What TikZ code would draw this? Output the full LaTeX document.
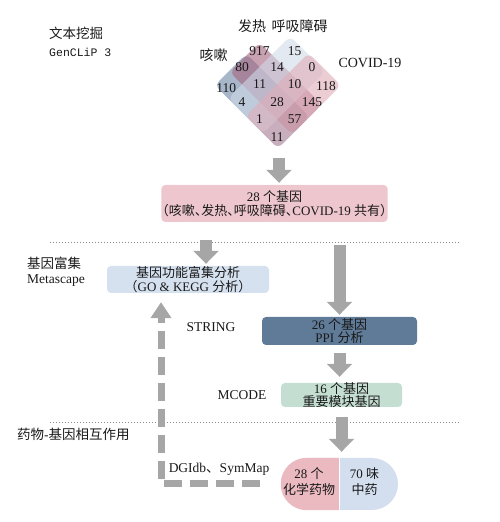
\documentclass[tikz,border=0pt]{standalone}
\usepackage{fontspec}
\setmainfont{Liberation Serif}
\setmonofont{Liberation Mono}
\newfontfamily\cjk{Noto Sans CJK SC}
\newfontfamily\cjkh[RawFeature=+halt]{Noto Sans CJK SC}
\usetikzlibrary{arrows.meta, positioning}

\definecolor{coughset}{HTML}{6C85A3}
\definecolor{feverset}{HTML}{A5647F}
\definecolor{breathset}{HTML}{CFDAE8}
\definecolor{covidset}{HTML}{E1ACB7}
\definecolor{commonpink}{HTML}{EEC6CD}
\definecolor{enrichblue}{HTML}{D6E1F0}
\definecolor{ppiblue}{HTML}{5F7B97}
\definecolor{modgreen}{HTML}{C5DED2}
\definecolor{chempink}{HTML}{EBB9C0}
\definecolor{herbblue}{HTML}{D3DEEE}
\definecolor{arrowgray}{HTML}{A6A6A6}
\definecolor{sepgray}{HTML}{8C8C8C}

\tikzstyle{set} = [fill opacity=0.6, rounded corners=6pt]
\tikzstyle{count} = [inner sep=0pt, text=black!90, font=\fontsize{13.5}{14}\selectfont]
\tikzstyle{setlabel} = [inner sep=0pt, text=black!90, font=\cjk\fontsize{14}{15}\selectfont]
\tikzstyle{side} = [inner sep=0pt, text=black!90, font=\fontsize{13.5}{15}\selectfont]
\tikzstyle{box} = [rectangle, rounded corners=4pt, align=center, inner xsep=1pt, inner ysep=0.5pt, text=black!90, font=\fontsize{13}{13.5}\selectfont]
\tikzstyle{commonbox} = [box, fill=commonpink, minimum width=225pt, minimum height=37pt]
\tikzstyle{enrichbox} = [box, fill=enrichblue, minimum width=162pt, minimum height=27pt, inner ysep=0pt]
\tikzstyle{ppibox} = [box, fill=ppiblue, minimum width=155pt, minimum height=28pt]
\tikzstyle{modulebox} = [box, fill=modgreen, minimum width=121pt, minimum height=24pt, inner ysep=-1.5pt]
\tikzstyle{pill} = [rectangle, rounded corners=26pt, fill=herbblue, minimum width=117pt, minimum height=52pt]
\tikzstyle{pilltext} = [align=center, inner sep=0pt, text=black!90, font=\fontsize{13}{16}\selectfont]
\tikzstyle{bigarrow} = [line width=12pt, draw=arrowgray, -{Triangle[length=13pt, width=25pt]}]
\tikzstyle{backarrow} = [line width=7pt, draw=arrowgray, dash pattern=on 18pt off 8pt, -{Triangle[length=16pt, width=20pt]}]
\tikzstyle{sep} = [draw=sepgray, line width=0.6pt, dash pattern=on 1pt off 2pt]

\begin{document}
\begin{tikzpicture}[x=1pt, y=1pt]
	\useasboundingbox (0,0) rectangle (500,522);

	% Text mining
	\node (mining) [side, anchor=west] at (49,489) {\cjk 文本挖掘};
	\node (genclip) [side, anchor=west, font=\ttfamily\fontsize{11.5}{12}\selectfont] at (49,470) {GenCLiP 3};

	% Venn diagram
	\begin{scope}[shift={(207,437.5)}, rotate=-45, scale=24.75]
		\fill [set, coughset] (0.25,0.2) rectangle (3.85,2);
		\fill [set, feverset] (0.3,1) rectangle (3.85,2.7);
		\fill [set, breathset] (1,0.2) rectangle (3,3.75);
		\fill [set, covidset] (2,0.2) rectangle (3.85,3.8);
		\node (n110) [count] at (0.65,0.45) {110};
		\node (n80) [count] at (0.5,1.5) {80};
		\node (n917) [count] at (0.55,2.45) {917};
		\node (n4) [count] at (1.5,0.5) {4};
		\node (n11abc) [count] at (1.5,1.5) {11};
		\node (n14) [count] at (1.5,2.5) {14};
		\node (n15) [count] at (1.55,3.45) {15};
		\node (n1) [count] at (2.5,0.5) {1};
		\node (n28) [count] at (2.5,1.5) {28};
		\node (n10) [count] at (2.5,2.5) {10};
		\node (n0) [count] at (2.5,3.5) {0};
		\node (n11ad) [count] at (3.5,0.5) {11};
		\node (n57) [count] at (3.5,1.5) {57};
		\node (n145) [count] at (3.5,2.5) {145};
		\node (n118) [count] at (3.45,3.35) {118};
	\end{scope}
	\node (fever) [setlabel] at (252,496) {发热};
	\node (breath) [setlabel] at (299.5,496) {呼吸障碍};
	\node (cough) [setlabel] at (213.5,467) {咳嗽};
	\node (covid) [setlabel, font=\fontsize{14}{15}\selectfont] at (370,459.5) {COVID-19};
	\coordinate (venn) at (279,364);

	% Common genes
	\node (common) [commonbox] at (274.5,318.5) {28 {\cjk 个基因}\\{\cjkh （咳嗽、发热、呼吸障碍、}COVID-19 {\cjkh 共有）}};
	\draw [bigarrow, shorten >=2pt] (venn) -- (venn |- common.north);

	% Enrichment
	\draw [sep] (50,280) -- (460,280);
	\node (enrichlabel) [side, anchor=west] at (27,259) {\cjk 基因富集};
	\node (metascape) [side, anchor=west] at (27,241) {Metascape};
	\node (enrich) [enrichbox] at (188,242.5) {{\cjk 基因功能富集分析}\\{\cjk （}GO \& KEGG {\cjk 分析）}};
	\draw [bigarrow, shorten <=18pt, shorten >=2pt] ([xshift=18pt]enrich.north |- common.south) -- ([xshift=18pt]enrich.north);

	% Network
	\node (ppi) [ppibox] at (339.5,191) {26 {\cjk 个基因}\\PPI {\cjk 分析}};
	\node (string) [side] at (211,194.5) {STRING};
	\node (module) [modulebox] at (341.5,127) {16 {\cjk 个基因}\\{\cjk 重要模块基因}};
	\node (mcode) [side] at (242,127) {MCODE};
	\draw [bigarrow, shorten <=23pt, shorten >=2pt] (ppi.north |- common.south) -- (ppi.north);
	\draw [bigarrow, shorten <=8pt, shorten >=6pt] (ppi.south) -- (ppi.south |- module.north);

	% Drug-gene interaction
	\draw [sep] (50,100) -- (460,100);
	\node (druglabel) [side, anchor=west] at (17,88) {{\cjk 药物}-{\cjk 基因相互作用}};
	\node (drugs) [pill] at (339.5,38) {};
	\begin{scope}
		\clip (drugs.south west) rectangle (drugs.north);
		\fill [chempink, rounded corners=26pt] (drugs.south west) rectangle (drugs.north east);
	\end{scope}
	\draw [white, line width=1.2pt] (drugs.north) -- (drugs.south);
	\node (chem) [pilltext] at (309,40) {28 {\cjk 个}\\{\cjk 化学药物}};
	\node (herb) [pilltext] at (364.5,40) {70 {\cjk 味}\\{\cjk 中药}};
	\node (dgidb) [side] at (219,53) {DGIdb{\cjk 、}SymMap};
	\draw [bigarrow, shorten <=10pt, shorten >=6pt] (module.south) -- (module.south |- drugs.north);
	\draw [backarrow, shorten <=21pt, shorten >=9pt] (drugs.west) -| ([xshift=-27pt]enrich.south);

\end{tikzpicture}
\end{document}
